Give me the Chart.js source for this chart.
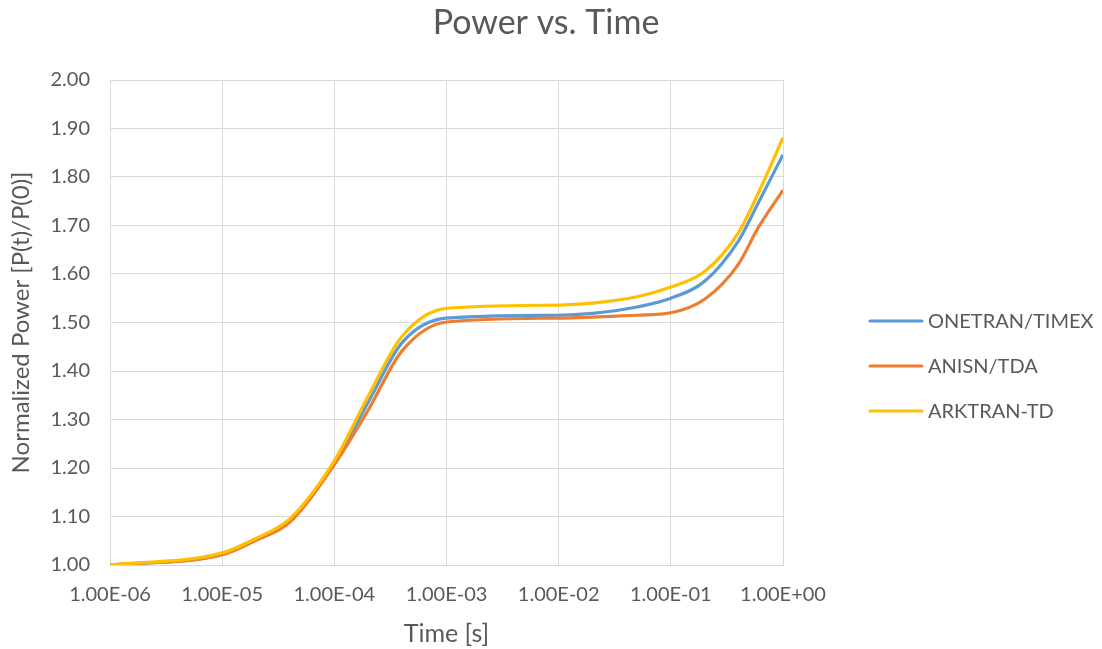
<!DOCTYPE html>
<html>
<head>
<meta charset="utf-8">
<script src="https://cdn.jsdelivr.net/npm/chart.js@4.4.1/dist/chart.umd.min.js"></script>
<style>
  html, body { margin: 0; padding: 0; background: #ffffff; }
  #wrap { width: 1102px; height: 649px; position: relative; }
</style>
</head>
<body>
<div id="wrap"><canvas id="c" width="1102" height="649"></canvas></div>
<script>
// ---- data ----
const chartTitle = "Power vs. Time";
const xAxisTitle = "Time [s]";
const yAxisTitle = "Normalized Power [P(t)/P(0)]";
const times = [1e-6, 1e-5, 2e-5, 4e-5, 1e-4, 2e-4, 4e-4, 1e-3, 1e-2, 2e-2, 5e-2, 1e-1, 2e-1, 4e-1, 6e-1, 1];
const seriesNames = ["ONETRAN/TIMEX", "ANISN/TDA", "ARKTRAN-TD"];
const onetran = [1.000, 1.022, 1.052, 1.090, 1.210, 1.335, 1.458, 1.509, 1.515, 1.519, 1.532, 1.550, 1.585, 1.668, 1.746, 1.846];
const anisn   = [1.000, 1.021, 1.051, 1.088, 1.207, 1.319, 1.441, 1.501, 1.509, 1.511, 1.515, 1.520, 1.548, 1.620, 1.695, 1.773];
const arktran = [1.000, 1.025, 1.055, 1.095, 1.215, 1.348, 1.471, 1.529, 1.536, 1.540, 1.553, 1.573, 1.605, 1.685, 1.766, 1.881];
const xTickValues = [1e-6, 1e-5, 1e-4, 1e-3, 1e-2, 1e-1, 1];
const xTickLabels = ["1.00E-06", "1.00E-05", "1.00E-04", "1.00E-03", "1.00E-02", "1.00E-01", "1.00E+00"];
const yTickValues = [1.0, 1.1, 1.2, 1.3, 1.4, 1.5, 1.6, 1.7, 1.8, 1.9, 2.0];
const yTickLabels = ["1.00", "1.10", "1.20", "1.30", "1.40", "1.50", "1.60", "1.70", "1.80", "1.90", "2.00"];

// ---- styles ----
const colors = ["#5B9BD5", "#ED7D31", "#FFC000"];
const FONT = "Lato, 'Open Sans', sans-serif";
const TEXT = "#595959";
const GRID = "#D9D9D9";

const seriesValues = [onetran, anisn, arktran];
const datasets = seriesValues.map((vals, i) => ({
  label: seriesNames[i],
  data: times.map((t, k) => ({ x: t, y: vals[k] })),
  borderColor: colors[i],
  backgroundColor: colors[i],
  borderWidth: 3.2,
  pointRadius: 0,
  fill: false,
  cubicInterpolationMode: 'monotone',
  order: 3 - i
}));

const extrasPlugin = {
  id: 'extras',
  afterDraw(chart) {
    const ctx = chart.ctx;
    ctx.save();
    // title
    ctx.fillStyle = TEXT;
    ctx.font = "34px " + FONT;
    ctx.textAlign = 'center';
    ctx.textBaseline = 'middle';
    ctx.fillText(chartTitle, 546, 23);
    // legend
    const rows = [321, 366, 411];
    ctx.font = "20px " + FONT;
    ctx.textAlign = 'left';
    chart.data.datasets.forEach((ds, i) => {
      const y = rows[i];
      ctx.strokeStyle = ds.borderColor;
      ctx.lineWidth = 3.2;
      ctx.lineCap = 'round';
      ctx.beginPath();
      ctx.moveTo(870, y);
      ctx.lineTo(922, y);
      ctx.stroke();
      ctx.fillStyle = TEXT;
      ctx.fillText(ds.label, 928, y + 1);
    });
    ctx.restore();
  }
};

new Chart(document.getElementById('c'), {
  type: 'line',
  data: { datasets },
  options: {
    responsive: false,
    animation: false,
    layout: { padding: { left: 0, right: 319, top: 80, bottom: 0 } },
    plugins: {
      legend: { display: false },
      title: { display: false },
      tooltip: { enabled: false }
    },
    scales: {
      x: {
        type: 'logarithmic',
        min: 1e-6,
        max: 1,
        afterBuildTicks(scale) { scale.ticks = xTickValues.map(v => ({ value: v })); },
        afterFit(scale) { scale.height = 84; },
        ticks: {
          autoSkip: false,
          maxRotation: 0,
          padding: 18,
          color: TEXT,
          font: { family: FONT, size: 20 },
          callback: (v, i) => xTickLabels[i]
        },
        grid: { color: GRID, lineWidth: 1, drawTicks: false },
        border: { color: GRID, width: 1 },
        title: {
          display: true,
          text: xAxisTitle,
          color: TEXT,
          font: { family: FONT, size: 25 },
          padding: { top: 0, bottom: 0 }
        }
      },
      y: {
        min: 1,
        max: 2,
        afterBuildTicks(scale) { scale.ticks = yTickValues.map(v => ({ value: v })); },
        afterFit(scale) { scale.width = 110; },
        ticks: {
          padding: 20,
          color: TEXT,
          font: { family: FONT, size: 20 },
          callback: (v, i) => yTickLabels[i]
        },
        grid: { color: GRID, lineWidth: 1, drawTicks: false },
        border: { color: GRID, width: 1 },
        title: {
          display: true,
          text: yAxisTitle,
          color: TEXT,
          font: { family: FONT, size: 24 },
          padding: { top: 7, bottom: 0 }
        }
      }
    }
  },
  plugins: [extrasPlugin]
});
</script>
</body>
</html>
